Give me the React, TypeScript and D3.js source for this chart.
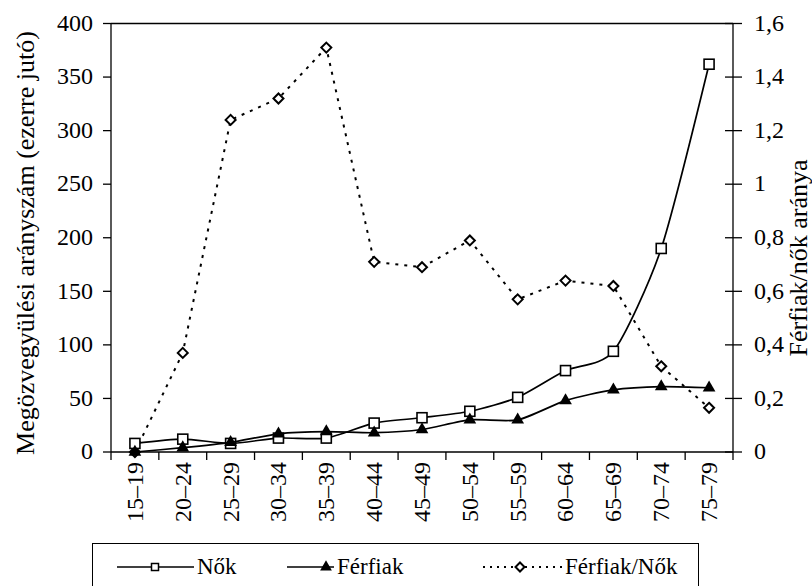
import React, { useEffect, useRef } from "react";
import * as d3 from "d3";

// age groups
const categories = [
  "15–19", "20–24", "25–29", "30–34", "35–39", "40–44", "45–49",
  "50–54", "55–59", "60–64", "65–69", "70–74", "75–79",
];
// widowhood rate per thousand
const nok = [8, 12, 8, 13, 13, 27, 32, 38, 51, 76, 94, 190, 362];
const ferfiak = [0, 4, 9, 17, 19, 18, 21, 30, 30, 48, 58, 61, 60];
// men / women ratio (right axis)
const arany = [0, 0.37, 1.24, 1.32, 1.51, 0.71, 0.69, 0.79, 0.57, 0.64, 0.62, 0.32, 0.165];

const leftTicks = [0, 50, 100, 150, 200, 250, 300, 350, 400];
const rightTicks = [0, 0.2, 0.4, 0.6, 0.8, 1, 1.2, 1.4, 1.6];

const FONT =
  "'Liberation Serif', 'Times New Roman', Times, Tinos, 'DejaVu Serif', 'Noto Serif', FreeSerif, serif";

const App = () => {
  const svgRef = useRef<SVGSVGElement>(null);
  const width = 812;
  const height = 586;

  useEffect(() => {
    const svg = d3.select(svgRef.current);
    svg.selectAll("*").remove();

    const margin = { top: 23.5, left: 111, right: 733, bottom: 452 };

    const x = d3.scaleBand().domain(categories).range([margin.left, margin.right]);
    const cx = (c: string) => (x(c) as number) + x.bandwidth() / 2;
    const yL = d3.scaleLinear().domain([0, 400]).range([margin.bottom, margin.top]);
    const yR = d3.scaleLinear().domain([0, 1.6]).range([margin.bottom, margin.top]);

    // top border of the plot area
    svg.append("line")
      .attr("x1", margin.left).attr("x2", margin.right)
      .attr("y1", margin.top).attr("y2", margin.top)
      .attr("stroke", "#000").attr("stroke-width", 1.3);

    // left axis
    const gl = svg.append("g");
    gl.append("line")
      .attr("x1", margin.left).attr("x2", margin.left)
      .attr("y1", margin.top).attr("y2", margin.bottom)
      .attr("stroke", "#000").attr("stroke-width", 1.3);
    leftTicks.forEach((t) => {
      gl.append("line")
        .attr("x1", margin.left - 8).attr("x2", margin.left)
        .attr("y1", yL(t)).attr("y2", yL(t))
        .attr("stroke", "#000").attr("stroke-width", 1.3);
      gl.append("text")
        .attr("x", 93).attr("y", yL(t)).attr("dy", "0.3em")
        .attr("text-anchor", "end")
        .style("font-family", FONT).style("font-size", "24px")
        .text(String(t));
    });

    // right axis
    const gr = svg.append("g");
    gr.append("line")
      .attr("x1", margin.right).attr("x2", margin.right)
      .attr("y1", margin.top).attr("y2", margin.bottom)
      .attr("stroke", "#000").attr("stroke-width", 1.3);
    rightTicks.forEach((t) => {
      gr.append("line")
        .attr("x1", margin.right - 8).attr("x2", margin.right + 9)
        .attr("y1", yR(t)).attr("y2", yR(t))
        .attr("stroke", "#000").attr("stroke-width", 1.3);
      gr.append("text")
        .attr("x", 754).attr("y", yR(t)).attr("dy", "0.3em")
        .style("font-family", FONT).style("font-size", "24px")
        .text(String(t).replace(".", ","));
    });

    // x axis
    const gx = svg.append("g");
    gx.append("line")
      .attr("x1", margin.left).attr("x2", margin.right)
      .attr("y1", margin.bottom).attr("y2", margin.bottom)
      .attr("stroke", "#000").attr("stroke-width", 1.3);
    [...categories.map((c) => x(c) as number), margin.right].forEach((bx) => {
      gx.append("line")
        .attr("x1", bx).attr("x2", bx)
        .attr("y1", margin.bottom).attr("y2", margin.bottom + 8)
        .attr("stroke", "#000").attr("stroke-width", 1.3);
    });
    categories.forEach((c) => {
      gx.append("text")
        .attr("transform", `translate(${cx(c)},${margin.bottom + 10}) rotate(-90)`)
        .attr("dy", "0.33em")
        .attr("text-anchor", "end")
        .style("font-family", FONT).style("font-size", "24px")
        .text(c);
    });

    // axis titles
    svg.append("text")
      .attr("transform", `translate(25,243) rotate(-90)`)
      .attr("dy", "0.33em")
      .attr("text-anchor", "middle")
      .style("font-family", FONT).style("font-size", "26px")
      .text("Megözvegyülési arányszám (ezerre jutó)");
    svg.append("text")
      .attr("transform", `translate(798,258) rotate(-90)`)
      .attr("dy", "0.33em")
      .attr("text-anchor", "middle")
      .style("font-family", FONT).style("font-size", "26px")
      .text("Férfiak/nők aránya");

    // ratio series (dotted, straight)
    const ratioLine = d3.line<number>()
      .x((_, i) => cx(categories[i]))
      .y((d) => yR(d));
    svg.append("path")
      .datum(arany)
      .attr("d", ratioLine)
      .attr("fill", "none")
      .attr("stroke", "#000")
      .attr("stroke-width", 2)
      .attr("stroke-dasharray", "3,6");
    arany.forEach((d, i) => {
      const px = cx(categories[i]);
      const py = yR(d);
      svg.append("path")
        .attr("d", `M${px},${py - 5}L${px + 5},${py}L${px},${py + 5}L${px - 5},${py}Z`)
        .attr("fill", "#fff").attr("stroke", "#000").attr("stroke-width", 2);
    });

    // smoothed primary lines
    const smooth = d3.line<number>()
      .x((_, i) => cx(categories[i]))
      .y((d) => yL(d))
      .curve(d3.curveCardinal.tension(0.3));

    svg.append("path")
      .datum(nok)
      .attr("d", smooth)
      .attr("fill", "none").attr("stroke", "#000").attr("stroke-width", 1.7);
    nok.forEach((d, i) => {
      svg.append("rect")
        .attr("x", cx(categories[i]) - 5).attr("y", yL(d) - 5)
        .attr("width", 10).attr("height", 10)
        .attr("fill", "#fff").attr("stroke", "#000").attr("stroke-width", 1.6);
    });

    svg.append("path")
      .datum(ferfiak)
      .attr("d", smooth)
      .attr("fill", "none").attr("stroke", "#000").attr("stroke-width", 1.7);
    const tri = d3.symbol().type(d3.symbolTriangle).size(70);
    ferfiak.forEach((d, i) => {
      svg.append("path")
        .attr("transform", `translate(${cx(categories[i])},${yL(d)})`)
        .attr("d", tri()!)
        .attr("fill", "#000");
    });

    // legend
    const lg = svg.append("g");
    lg.append("rect")
      .attr("x", 92.5).attr("y", 543.5)
      .attr("width", 606).attr("height", 60)
      .attr("fill", "#fff").attr("stroke", "#000").attr("stroke-width", 1);
    const ly = 567;
    // Nők
    lg.append("line").attr("x1", 117).attr("x2", 194).attr("y1", ly).attr("y2", ly)
      .attr("stroke", "#000").attr("stroke-width", 1.7);
    lg.append("rect").attr("x", 151.5).attr("y", ly - 3.5).attr("width", 7).attr("height", 7)
      .attr("fill", "#fff").attr("stroke", "#000").attr("stroke-width", 1.5);
    lg.append("text").attr("x", 197).attr("y", ly).attr("dy", "0.3em")
      .style("font-family", FONT).style("font-size", "23px").text("Nők");
    // Férfiak
    lg.append("line").attr("x1", 287).attr("x2", 334).attr("y1", ly).attr("y2", ly)
      .attr("stroke", "#000").attr("stroke-width", 1.7);
    lg.append("path").attr("transform", `translate(326,${ly})`)
      .attr("d", d3.symbol().type(d3.symbolTriangle).size(60)()!)
      .attr("fill", "#000");
    lg.append("text").attr("x", 337).attr("y", ly).attr("dy", "0.3em")
      .style("font-family", FONT).style("font-size", "23px").text("Férfiak");
    // Férfiak/Nők
    lg.append("line").attr("x1", 483).attr("x2", 562).attr("y1", ly).attr("y2", ly)
      .attr("stroke", "#000").attr("stroke-width", 2).attr("stroke-dasharray", "2,5");
    lg.append("path")
      .attr("d", `M520,${ly - 4.5}L524.5,${ly}L520,${ly + 4.5}L515.5,${ly}Z`)
      .attr("fill", "#fff").attr("stroke", "#000").attr("stroke-width", 2);
    lg.append("text").attr("x", 565).attr("y", ly).attr("dy", "0.3em")
      .style("font-family", FONT).style("font-size", "23px").text("Férfiak/Nők");
  }, []);

  return (
    <svg
      ref={svgRef}
      width={width}
      height={height}
      style={{ position: "absolute", left: 0, top: 0, background: "#fff" }}
    />
  );
};

export default App;
